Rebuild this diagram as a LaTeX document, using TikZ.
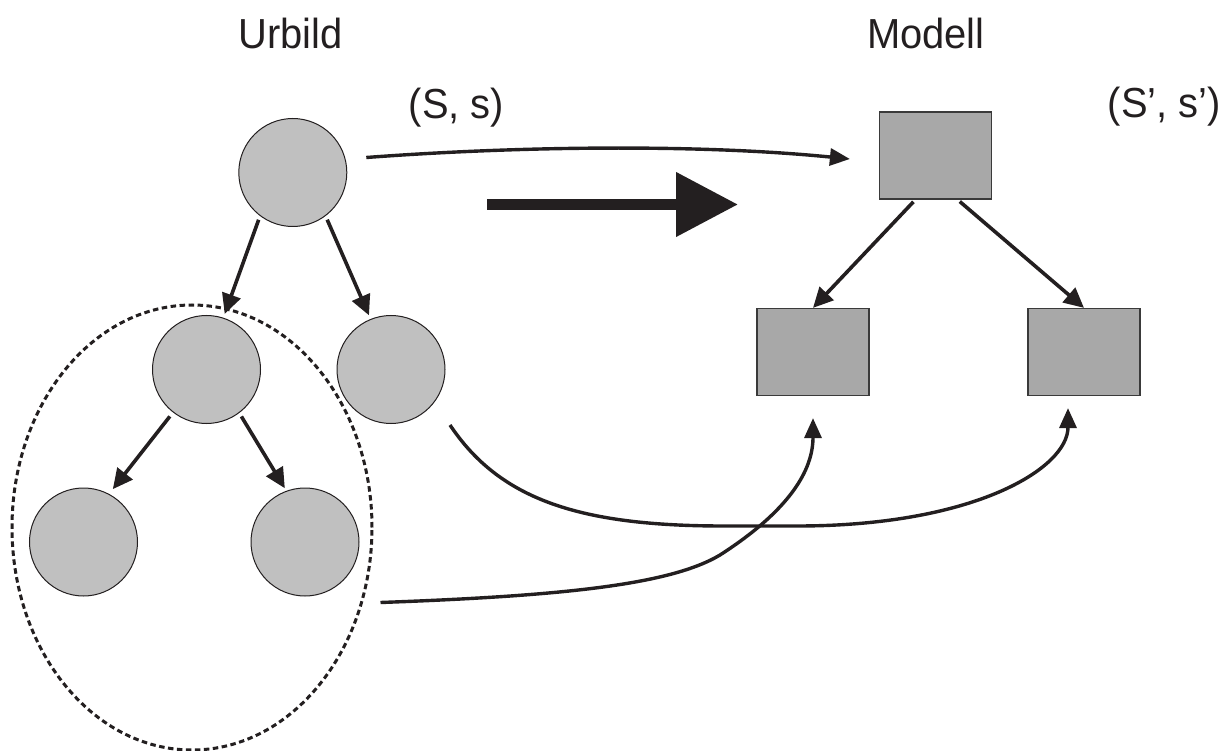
\documentclass[tikz,border=0pt]{standalone}
\usepackage{fontspec}
\usepackage{graphicx}
\setmainfont{Liberation Sans}
\usetikzlibrary{arrows.meta,shapes.geometric}

\definecolor{ink}{HTML}{231F20}
\definecolor{circfill}{HTML}{C0C0C0}
\definecolor{boxfill}{HTML}{A8A8A8}
\definecolor{boxedge}{HTML}{3A3A3A}

\tikzset{
  orig/.style={circle, draw=ink, line width=1pt, fill=circfill,
               minimum size=108pt, inner sep=0pt},
  modl/.style={rectangle, draw=boxedge, line width=1.2pt, fill=boxfill,
               minimum width=112pt, minimum height=87pt, inner sep=0pt},
  lbl/.style={anchor=base, inner sep=0pt, text=ink,
              font=\fontsize{42}{50}\selectfont},
  link/.style={draw=ink, line width=3.6pt,
               -{Triangle[length=20pt,width=19pt]}},
  maplink/.style={draw=ink, line width=3.4pt,
               -{Triangle[length=20pt,width=17pt]}},
  group/.style={ellipse, draw=ink, line width=3pt,
                dash pattern=on 5.5pt off 3.5pt,
                minimum width=360pt, minimum height=445pt, inner sep=0pt}
}

\begin{document}
\begin{tikzpicture}[x=1pt,y=-1pt]
\useasboundingbox (0,0) rectangle (1232,751);

% titles and labels
\node[lbl] (tU) at (290.7,49) {\scalebox{0.95}[1]{Urbild}};
\node[lbl] (tM) at (925.8,49) {\scalebox{0.95}[1]{Modell}};
\node[lbl] (lS) at (456.5,119) {\scalebox{0.95}[1]{(S, s)}};
\node[lbl] (lM) at (1164.5,118) {\scalebox{0.95}[1]{(S’, s’)}};

% dashed group around the subtree
\node[group] (grp) at (192,527.5) {};

% original structure (circles)
\node[orig] (root) at (292.8,172.5) {};
\node[orig] (c1) at (206.5,369.5) {};
\node[orig] (c2) at (391,369.5) {};
\node[orig] (g1) at (83.5,542) {};
\node[orig] (g2) at (305,542) {};

% model structure (squares)
\node[modl] (st) at (935.5,155.5) {};
\node[modl] (sl) at (813,352) {};
\node[modl] (sr) at (1084,352) {};

% tree edges in the original
\draw[link, shorten <=4pt, shorten >=4pt] (root.233) -- (c1.72);
\draw[link, shorten <=4pt, shorten >=4pt] (root.307) -- (c2.112);
\draw[link, shorten <=5pt, shorten >=6pt] (c1.232) -- (g1.62);
\draw[link, shorten <=4pt, shorten >=3pt] (c1.307) -- (g2.110);

% tree edges in the model
\draw[link, shorten <=3pt] ([xshift=-20pt]st.south) -- (sl.north);
\draw[link, shorten <=3pt] ([xshift=22pt]st.south) -- (sr.north);

% big mapping arrow
\draw[ink, line width=11pt, -{Triangle[length=62pt,width=62pt]}]
  (487,204.5) -- (738,204.5);

% mapping of the elements
\draw[maplink] ([xshift=19pt,yshift=15pt]root.east)
  .. controls (520,146) and (700,144) .. ([xshift=-29pt,yshift=-3.5pt]st.west);
\draw[maplink] ([xshift=59pt,yshift=-55.5pt]c2.center)
  .. controls (500,500) and (580,526) .. (724,526) -- (797,526)
  .. controls (975,526) and (1068,468) .. ([xshift=-16pt,yshift=-12pt]sr.south);
\draw[maplink] ([xshift=7pt,yshift=-75pt]grp.east)
  .. controls (560,596) and (670,585) .. (720,555)
  .. controls (790,510) and (813,470) .. ([yshift=-22pt]sl.south);
\end{tikzpicture}
\end{document}
